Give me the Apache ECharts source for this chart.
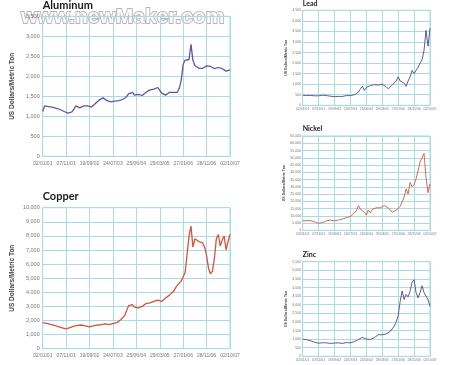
<!DOCTYPE html>
<html><head><meta charset="utf-8">
<script src="https://cdn.jsdelivr.net/npm/echarts@6/dist/echarts.min.js"></script>
<style>html,body{margin:0;padding:0;background:#fff}#c{width:454px;height:365px}</style>
</head><body><div id="c"></div>
<script>
const tickLabels = ['02/01/01','07/11/01','19/09/02','24/07/03','25/06/04','29/03/05','27/01/06','28/11/06','02/10/07'];
const yName = 'US Dollars/Metric Ton';
const titles = ['Aluminum','Copper','Lead','Nickel','Zinc'];

const aluminum = [1120,1260,1250,1240,1250,1230,1210,1200,1180,1170,1150,1120,1090,
  1080,1060,1110,1180,1260,1240,1210,1240,1260,1280,1260,1220,
  1230,1270,1320,1370,1410,1450,1460,1440,1390,1370,1360,1370,
  1380,1370,1390,1400,1420,1450,1490,1560,1580,1600,1530,1530,
  1550,1540,1520,1550,1600,1640,1660,1650,1680,1700,1720,1680,
  1580,1550,1530,1560,1600,1610,1600,1620,1600,1700,1900,2300,
  2400,2350,2420,2800,2400,2270,2280,2200,2170,2200,2230,2260,
  2280,2250,2200,2190,2210,2220,2200,2190,2170,2130,2150,2160];

const copper = [1850,1830,1800,1780,1720,1680,1650,1600,1560,1520,1480,1440,1400,
  1450,1500,1560,1600,1630,1650,1700,1680,1660,1620,1560,1540,
  1580,1620,1650,1680,1720,1700,1740,1760,1720,1700,1760,1780,
  1800,1850,1950,2050,2200,2350,2700,3050,3150,3120,2950,2850,
  2900,2950,3000,3050,3200,3150,3250,3300,3350,3400,3450,3500,
  3350,3400,3600,3700,3800,3900,4050,4300,4500,4650,4800,4900,
  5400,6700,8000,8700,7200,7800,7900,7600,7700,7500,7200,6600,
  5700,5300,5500,6400,7800,8100,7300,7700,8000,7000,7600,8100];

const lead = [480,470,460,450,470,460,450,440,450,
  460,480,470,460,450,430,420,410,
  400,420,430,420,440,460,440,460,
  490,500,540,620,780,900,700,850,
  900,930,960,980,1000,960,990,1000,
  970,880,780,870,960,1020,1150,1350,
  1150,1180,1050,900,1150,1350,1650,1500,
  1550,1800,2000,2150,2600,3550,2800,3650];

const nickel = [6500,6800,6700,7000,6600,6200,5800,5200,4800,
  5100,5400,6000,6500,6900,7000,6600,6500,
  6700,7000,7300,7800,8500,8800,9000,9500,
  10500,12000,13500,17000,14500,15000,12500,10500,
  14000,12000,14500,13500,15500,14500,15500,16500,
  17000,16500,15500,14000,12500,12000,14000,15000,
  16500,19500,23000,28500,25000,33000,30000,31500,
  35500,41000,47000,50000,53000,36000,26000,32000];

const zinc = [1000,990,960,930,900,860,820,790,760,
  770,790,800,780,760,750,760,770,
  760,780,760,750,780,800,790,780,
  820,860,900,980,1080,1100,1050,1000,
  1060,980,960,1080,1180,1260,1350,1250,
  1280,1300,1350,1450,1550,1750,2000,2350,
  3200,3800,3300,3600,3450,3800,4300,4450,
  3700,3400,3700,4100,3700,3800,3300,2900];

const seriesData = [aluminum, copper, lead, nickel, zinc];
const yMax = [3500, 10000, 4500, 65000, 5500];
const yStep = [500, 1000, 500, 5000, 500];
const lineColors = ['#5a58a0', '#d4543a', '#4b4b80', '#d05a3c', '#4a4a88'];

const boxes = [
  {left:42.7, top:16.3, width:187.3, height:140, big:true, titleTop:0},
  {left:42.7, top:207.7, width:187.3, height:141, big:true, titleTop:190.5},
  {left:302.7, top:10.3, width:127.3, height:95, big:false, titleTop:0},
  {left:302.7, top:136, width:127.3, height:94.3, big:false, titleTop:125},
  {left:302.7, top:261.7, width:127.3, height:94.6, big:false, titleTop:251}
];

const gridColor = '#a9dbe6';
const labelFont = 'Liberation Sans';
const fmt = v => v.toLocaleString('en-US');

const option = {
  backgroundColor: '#fff',
  animation: false,
  title: titles.map((t, i) => ({
    text: t, left: boxes[i].left, top: boxes[i].titleTop, padding: 0,
    textStyle: {fontFamily: 'Lato', fontWeight: 'bold', fontSize: boxes[i].big ? 11 : 7, color: '#1a1a1a'}
  })),
  grid: boxes.map(b => ({left: b.left, top: b.top, width: b.width, height: b.height,
    show: true, borderColor: gridColor, borderWidth: 1, containLabel: false})),
  xAxis: seriesData.map((d, i) => {
    const k = (d.length - 1) / 8;
    const big = boxes[i].big;
    return {
      type: 'category', gridIndex: i, boundaryGap: false,
      data: d.map((_, j) => j % k === 0 ? tickLabels[j / k] : ''),
      axisLine: {lineStyle: {color: gridColor}},
      axisTick: {show: false},
      axisLabel: {interval: (j) => j % k === 0, color: '#777', fontFamily: labelFont,
        fontSize: big ? 5 : 3.4, margin: big ? 4.5 : 2},
      splitLine: {show: true, interval: (j) => j % k === 0, lineStyle: {color: gridColor, width: 1}}
    };
  }),
  yAxis: seriesData.map((d, i) => {
    const big = boxes[i].big;
    return {
      type: 'value', gridIndex: i, min: 0, max: yMax[i], interval: yStep[i],
      name: yName, nameLocation: 'middle', nameRotate: 90, nameGap: big ? 27 : 10,
      nameTextStyle: {fontFamily: 'Liberation Sans', fontWeight: 'bold', fontSize: big ? 6.5 : 3.5, color: '#444'},
      axisLine: {show: true, lineStyle: {color: gridColor}},
      axisTick: {show: false},
      axisLabel: {formatter: fmt, color: '#777', fontFamily: labelFont,
        fontSize: big ? 5.5 : 3.6, margin: big ? 3 : 1.5},
      splitLine: {show: true, lineStyle: {color: gridColor, width: 1}}
    };
  }),
  series: seriesData.map((d, i) => ({
    type: 'line', xAxisIndex: i, yAxisIndex: i, data: d, showSymbol: false, symbol: 'none',
    lineStyle: {color: lineColors[i], width: boxes[i].big ? 1.3 : 0.9}
  })),
  graphic: [{
    type: 'text', left: 20, top: 6, silent: true,
    style: {text: 'www.newMaker.com', font: 'bold 21px "Liberation Sans"', fill: '#ffffff',
      stroke: '#b0b0b0', lineWidth: 1.8, opacity: 0.9}
  }]
};

echarts.init(document.getElementById('c'), null, {renderer: 'canvas'}).setOption(option);
</script>
</body></html>
